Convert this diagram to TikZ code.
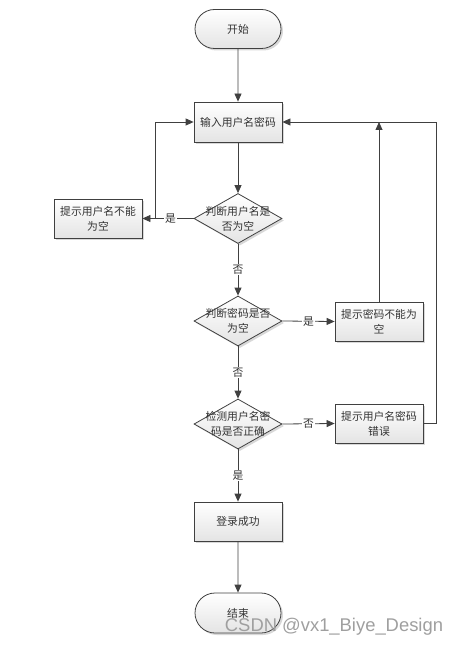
\documentclass[tikz,border=0pt]{standalone}
\usepackage{fontspec}
\newfontfamily\cjk{Noto Sans CJK SC}
\newfontfamily\wmfont{Liberation Sans}
\usetikzlibrary{arrows.meta,shapes.geometric,shapes.misc,shadows,calc}
\definecolor{linecol}{HTML}{404040}
\definecolor{boxgray}{HTML}{E4E4E4}
\begin{document}
\begin{tikzpicture}[x=1pt,y=-1pt,
  every node/.style={font=\cjk\fontsize{10.8}{15}\selectfont, text=black!80},
  shad/.style={drop shadow={shadow xshift=2pt,shadow yshift=-2pt,fill=gray!60,opacity=0.5}},
  procbox/.style={draw=linecol, line width=0.8pt, top color=white, bottom color=boxgray, shad,
    minimum width=88pt, minimum height=39pt, inner sep=1pt, align=center},
  termbox/.style={rounded rectangle, draw=linecol, line width=0.8pt, top color=white, bottom color=boxgray, shad,
    minimum width=88pt, minimum height=39pt, inner sep=1pt},
  decbox/.style={diamond, draw=linecol, line width=0.8pt, top color=white, bottom color=boxgray, shad,
    minimum width=88pt, minimum height=50pt, inner sep=0pt},
  dlabel/.style={align=center, inner sep=0pt},
  arr/.style={draw=linecol, line width=0.8pt, -{Triangle[length=8pt,width=7pt]}},
  lab/.style={fill=white, inner sep=1pt}
]
\useasboundingbox (0,0) rectangle (457,647);

\node[termbox] (start) at (238,29) {开始};
\node[procbox, minimum height=40pt] (input) at (238,122) {输入用户名密码};
\node[decbox, label={[dlabel]center:判断用户名是\\否为空}] (d1) at (238,218.5) {};
\node[procbox] (tip1) at (98,218.5) {提示用户名不能\\为空};
\node[decbox, label={[dlabel]center:判断密码是否\\为空}] (d2) at (238,321) {};
\node[procbox] (tip2) at (379,321.5) {提示密码不能为\\空};
\node[decbox, label={[dlabel]center:检测用户名密\\码是否正确}] (d3) at (238,424) {};
\node[procbox] (tip3) at (379,423.5) {提示用户名密码\\错误};
\node[procbox] (ok) at (238,521.5) {登录成功};
\node[termbox, minimum height=40pt] (end) at (238,613) {结束};

\draw[arr] (start) -- (input);
\draw[arr] (input) -- (d1);
\draw[arr] (d1.west) -- node[lab, pos=0.45] (l1) {是} (tip1.east);
\coordinate (c1) at ($(tip1.east)+(13,0)$);
\draw[arr] (c1) |- (input.west);
\draw[arr] (d1.south) -- node[lab] (l2) {否} (d2.north);
\draw[arr] (d2.east) -- node[lab] (l3) {是} (tip2.west);
\coordinate (j2) at (tip2.north |- input.east);
\draw[arr] (tip2.north) -- (j2);
\draw[arr] (d2.south) -- node[lab] (l4) {否} (d3.north);
\draw[arr] (d3.east) -- node[lab] (l5) {否} (tip3.west);
\coordinate (c3) at ($(tip3.east)+(13,0)$);
\draw[arr] (tip3.east) -- (c3) |- (input.east);
\draw[arr] (d3.south) -- node[lab] (l6) {是} (ok.north);
\draw[arr] (ok) -- (end);

\node[font=\wmfont\fontsize{18.4}{20}\selectfont, text=gray!75, inner sep=0pt] (wm) at (334,627) {CSDN @vx1\_Biye\_Design};
\end{tikzpicture}
\end{document}
